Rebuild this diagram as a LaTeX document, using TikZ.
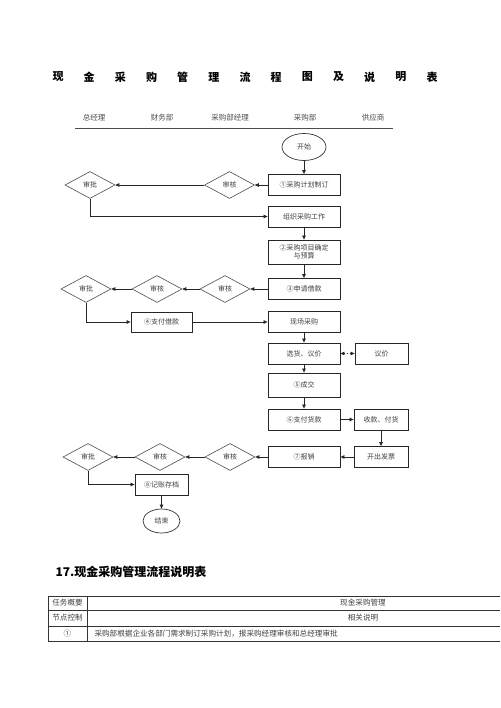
\documentclass[tikz,border=0pt]{standalone}
\usepackage{fontspec}
\setmainfont{Noto Sans CJK SC}
\usetikzlibrary{arrows.meta, shapes.geometric}
\tikzset{
  flowbox/.style={rectangle, draw=black!85, line width=0.8pt, minimum width=72pt,
    minimum height=21pt, inner sep=1pt, text=black!75, font=\fontsize{7}{8.5}\selectfont},
  check/.style={diamond, draw=black!70, line width=0.6pt, aspect=1.85, inner sep=0pt,
    minimum width=50pt, minimum height=27pt, text=black!75, font=\fontsize{7}{8.5}\selectfont},
  term/.style={ellipse, draw=black!80, line width=0.7pt, inner sep=0pt,
    text=black!75, font=\fontsize{7}{8.5}\selectfont},
  link/.style={draw=black!85, line width=0.7pt, -{Triangle[length=4pt, width=3.5pt]}},
  twoway/.style={draw=black!85, line width=0.7pt, dotted,
    {Triangle[length=4pt, width=3.5pt]}-{Triangle[length=4pt, width=3.5pt]}},
  lane/.style={text=black!70, font=\fontsize{7.5}{9}\selectfont},
  titlechar/.style={font=\fontsize{11}{13}\selectfont\bfseries},
  tabline/.style={draw=black!80, line width=0.7pt},
  tabtext/.style={text=black!75, font=\fontsize{7.6}{9}\selectfont},
}

\begin{document}
\begin{tikzpicture}[x=1pt, y=-1pt]

  \useasboundingbox (0,0) rectangle (500,708);

  % title
  \foreach \c [count=\i from 0] in {现,金,采,购,管,理,流,程,图,及,说,明,表}
    \node[titlechar] (title\i) at ({58+31.17*\i},77) {\c};

  % lanes
  \node[lane] (laneGM)  at (94,118)  {总经理};
  \node[lane] (laneFin) at (162,118) {财务部};
  \node[lane] (lanePM)  at (230,118) {采购部经理};
  \node[lane] (lanePur) at (305,118) {采购部};
  \node[lane] (laneSup) at (373,118) {供应商};
  \draw[draw=black!70, line width=0.7pt] (75,128) -- (393,128);

  % purchasing column
  \node[term, minimum width=44pt, minimum height=27pt] (start) at (304,147) {开始};
  \node[flowbox] (plan)   at (304,185)   {①采购计划制订};
  \node[flowbox] (org)    at (304,216.5) {组织采购工作};
  \node[flowbox, minimum height=24pt, align=center] (budget) at (304,252) {②采购项目确定\\与预算};
  \node[flowbox] (loan)   at (304,289)   {③申请借款};
  \node[flowbox] (field)  at (304,322)   {现场采购};
  \node[flowbox] (pick)   at (304,353.5) {选货、议价};
  \node[flowbox, minimum height=24pt] (deal) at (304,385) {⑤成交};
  \node[flowbox] (pay)    at (304,419.5) {⑥支付货款};
  \node[flowbox] (claim)  at (304,457)   {⑦报销};

  % supplier column
  \node[flowbox, minimum width=53pt] (bargain) at (381.5,353.5) {议价};
  \node[flowbox, minimum width=54pt] (recv)    at (381,419.5)   {收款、付货};
  \node[flowbox, minimum width=54pt] (invoice) at (381,457)     {开出发票};

  % checks and approvals
  \node[check] (pmA) at (229.5,185) {审核};
  \node[check] (gmA) at (90,185)    {审批};
  \node[check] (pmB) at (225,289)   {审核};
  \node[check] (fiB) at (157,289)   {审核};
  \node[check] (gmB) at (86,289)    {审批};
  \node[check] (pmC) at (230,457)   {审核};
  \node[check] (fiC) at (160,457)   {审核};
  \node[check] (gmC) at (88,457)    {审批};

  % finance column
  \node[flowbox, minimum width=61pt, minimum height=20pt] (payloan) at (161.5,322) {④支付借款};
  \node[flowbox, minimum width=53pt] (archive) at (161.5,484.5) {⑧记账存档};
  \node[term, minimum width=37pt, minimum height=24pt] (stop) at (161.5,521) {结束};

  % connectors
  \draw[link] (start) -- (plan);
  \draw[link] (plan) -- (pmA);
  \draw[link] (pmA) -- (gmA);
  \draw[link] (gmA.south) |- (org.west);
  \draw[link] (org) -- (budget);
  \draw[link] (budget) -- (loan);
  \draw[link] (loan) -- (pmB);
  \draw[link] (pmB) -- (fiB);
  \draw[link] (fiB) -- (gmB);
  \draw[link] (gmB.south) |- (payloan.west);
  \draw[link] (payloan) -- (field);
  \draw[link] (field) -- (pick);
  \draw[twoway] (pick) -- (bargain);
  \draw[link] (pick) -- (deal);
  \draw[link] (deal) -- (pay);
  \draw[link] (pay) -- (recv);
  \draw[link] (recv) -- (invoice);
  \draw[link] (invoice) -- (claim);
  \draw[link] (claim) -- (pmC);
  \draw[link] (pmC) -- (fiC);
  \draw[link] (fiC) -- (gmC);
  \draw[link] (gmC.south) |- (archive.west);
  \draw[link] (archive) -- (stop);

  % table
  \node[anchor=west, font=\fontsize{12}{14}\selectfont\bfseries] (tabtitle) at (52,572)
    {17.现金采购管理流程说明表};
  \draw[tabline] (48,596) -- (500,596) (48,610) -- (500,610)
    (48,626) -- (500,626) (48,641) -- (500,641);
  \draw[tabline] (48,596) -- (48,641) (87,596) -- (87,641);
  \node[tabtext] (taskH)  at (67.5,603)   {任务概要};
  \node[tabtext] (taskV)  at (363,603)    {现金采购管理};
  \node[tabtext] (nodeH)  at (67.5,618)   {节点控制};
  \node[tabtext] (nodeV)  at (363,618)    {相关说明};
  \node[tabtext] (stepNo) at (67.5,633.5) {①};
  \node[tabtext, anchor=west] (stepTx) at (91,633.5)
    {采购部根据企业各部门需求制订采购计划，报采购经理审核和总经理审批};

\end{tikzpicture}
\end{document}
